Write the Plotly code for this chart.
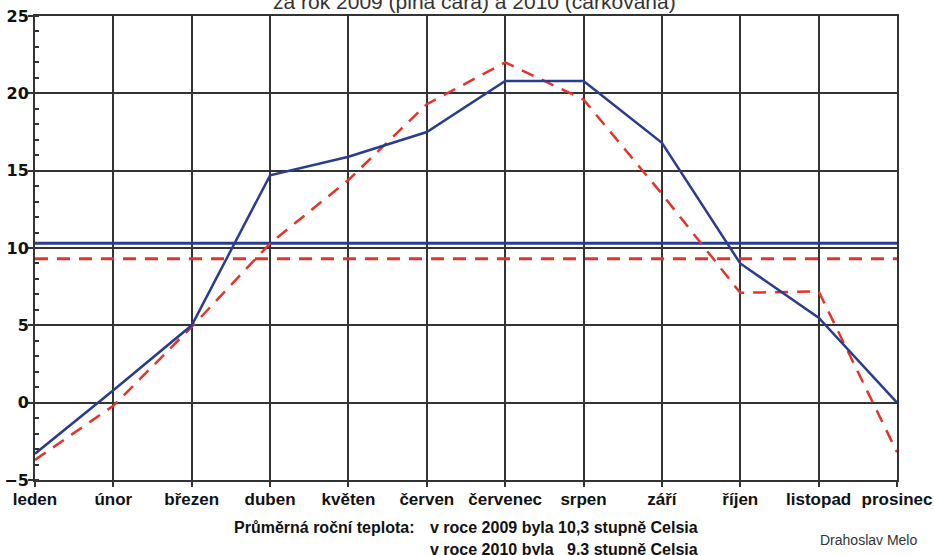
import plotly.graph_objects as go

months = ["leden", "únor", "březen", "duben", "květen", "červen",
          "červenec", "srpen", "září", "říjen", "listopad", "prosinec"]
t2009 = [-3.3, 0.8, 5.0, 14.7, 15.9, 17.5, 20.8, 20.8, 16.8, 9.0, 5.5, 0.0]
t2010 = [-3.7, -0.2, 4.9, 10.3, 14.4, 19.3, 22.0, 19.6, 13.5, 7.1, 7.2, -3.2]
avg2009 = 10.3
avg2010 = 9.3

title_text = "za rok 2009 (plná čára) a 2010 (čárkovaná)"
note_label = "Průměrná roční teplota:"
note_2009 = "v roce 2009 byla 10,3 stupně Celsia"
note_2010 = "v roce 2010 byla\u00a0\u00a0\u00a09,3 stupně Celsia"
author = "Drahoslav Melo"

BLUE = "#2a3c8e"
RED = "#e3342b"
GRID = "#333333"

fig = go.Figure()
fig.add_trace(go.Scatter(x=months, y=[avg2009] * len(months), mode="lines",
                         line=dict(color=BLUE, width=3), hoverinfo="skip"))
fig.add_trace(go.Scatter(x=months, y=[avg2010] * len(months), mode="lines",
                         line=dict(color=RED, width=3, dash="13px,9px"), hoverinfo="skip"))
fig.add_trace(go.Scatter(x=months, y=t2010, mode="lines",
                         line=dict(color=RED, width=2.5, dash="13px,9px")))
fig.add_trace(go.Scatter(x=months, y=t2009, mode="lines",
                         line=dict(color=BLUE, width=2.5)))

L, R, T, B = 35, 37, 16, 75
W, H = 934, 555
pw, ph = W - L - R, H - T - B

def px(x):
    return (x - L) / pw

def py(y):
    return (H - B - y) / ph

FONT = "Liberation Sans, Arial"
annotations = [
    dict(text=title_text, x=px(474), y=1, xref="paper", yref="paper",
         xanchor="center", yanchor="bottom", yshift=1, showarrow=False,
         font=dict(family=FONT, size=21, color="#333333")),
    dict(text="<b>" + note_label + "</b>", x=px(232), y=py(527), xref="paper", yref="paper",
         xanchor="left", yanchor="middle", showarrow=False,
         font=dict(family=FONT, size=16, color="#111111")),
    dict(text="<b>" + note_2009 + "</b>", x=px(428), y=py(527), xref="paper", yref="paper",
         xanchor="left", yanchor="middle", showarrow=False,
         font=dict(family=FONT, size=16, color="#111111")),
    dict(text="<b>" + note_2010 + "</b>", x=px(428), y=py(549), xref="paper", yref="paper",
         xanchor="left", yanchor="middle", showarrow=False,
         font=dict(family=FONT, size=16, color="#111111")),
    dict(text=author, x=px(818), y=py(540), xref="paper", yref="paper",
         xanchor="left", yanchor="middle", showarrow=False,
         font=dict(family=FONT, size=14, color="#333333")),
]

fig.update_layout(
    width=W, height=H,
    margin=dict(l=L, r=R, t=T, b=B, pad=0, autoexpand=False),
    paper_bgcolor="white", plot_bgcolor="white",
    showlegend=False,
    annotations=annotations,
    xaxis=dict(type="category", range=[0, len(months) - 1], automargin=False,
               showgrid=True, gridcolor=GRID, gridwidth=2,
               showline=True, linecolor=GRID, linewidth=2, mirror=True,
               ticks="outside", ticklen=5, tickcolor=GRID, tickwidth=2,
               ticklabelstandoff=-2,
               tickfont=dict(family=FONT, size=17, color="#111111"),
               zeroline=False),
    yaxis=dict(range=[-5, 25], dtick=5, tick0=0, automargin=False,
               showgrid=True, gridcolor=GRID, gridwidth=2,
               showline=True, linecolor=GRID, linewidth=2, mirror=True,
               ticks="outside", ticklen=5, tickcolor=GRID, tickwidth=2,
               ticklabelstandoff=-4,
               tickfont=dict(family="DejaVu Sans, Liberation Sans", size=16, color="#111111", weight="bold"),
               zeroline=False,
               minor=dict(dtick=1, ticks="inside", ticklen=4, tickcolor=GRID, tickwidth=1.5,
                          showgrid=False)),
)
fig.update_xaxes(tickvals=months, ticktext=["<b>" + m + "</b>" for m in months])

fig.write_html("out.html", config={"displayModeBar": False},
               post_script="document.body.style.margin='0px';document.body.style.padding='0px';")
